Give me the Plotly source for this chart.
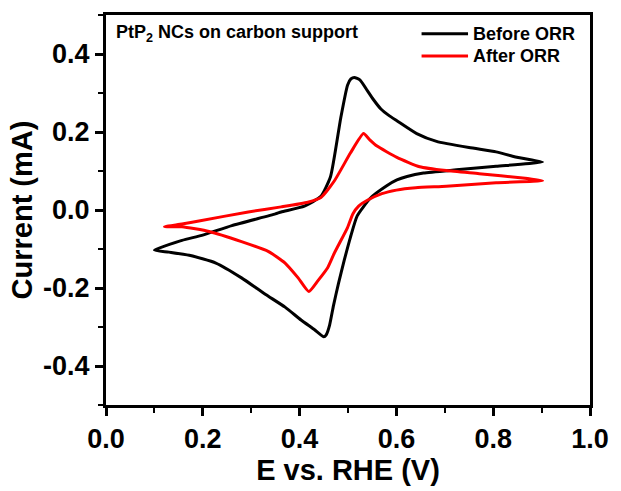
import plotly.graph_objects as go

# Before ORR (black) CV loop
before_E = [0.100, 0.157, 0.198, 0.260, 0.350, 0.362, 0.410, 0.444, 0.464, 0.485, 0.499, 0.506, 0.513,
            0.525, 0.540, 0.552, 0.568, 0.585, 0.601, 0.642, 0.683, 0.750, 0.806, 0.840, 0.880, 0.902,
            0.806, 0.724, 0.656, 0.622, 0.601, 0.580, 0.546, 0.519, 0.505, 0.492, 0.480, 0.470,
            0.462, 0.455, 0.450, 0.431, 0.403, 0.370, 0.329, 0.280, 0.227, 0.172, 0.130, 0.100]
before_I = [-0.103, -0.078, -0.065, -0.040, -0.010, -0.005, 0.010, 0.035, 0.086, 0.236, 0.320, 0.336, 0.340,
            0.333, 0.306, 0.284, 0.259, 0.242, 0.229, 0.196, 0.176, 0.160, 0.149, 0.138, 0.128, 0.123,
            0.112, 0.103, 0.095, 0.086, 0.077, 0.062, 0.030, -0.015, -0.070, -0.130, -0.190, -0.245,
            -0.295, -0.320, -0.325, -0.307, -0.282, -0.249, -0.216, -0.174, -0.136, -0.116, -0.108, -0.103]

# After ORR (red) CV loop
after_E = [0.121, 0.157, 0.192, 0.294, 0.362, 0.417, 0.444, 0.472, 0.505, 0.532,
           0.545, 0.560, 0.601, 0.648, 0.703, 0.771, 0.861, 0.902,
           0.806, 0.703, 0.640, 0.600, 0.570, 0.540, 0.522, 0.510, 0.499, 0.472, 0.458, 0.438,
           0.419, 0.397, 0.370, 0.335, 0.280, 0.213, 0.157, 0.121]
after_I = [-0.043, -0.036, -0.028, -0.005, 0.008, 0.020, 0.032, 0.075, 0.146, 0.196,
           0.180, 0.164, 0.135, 0.111, 0.101, 0.093, 0.082, 0.075,
           0.070, 0.061, 0.057, 0.051, 0.042, 0.025, 0.010, -0.010, -0.045, -0.110, -0.148, -0.181,
           -0.209, -0.174, -0.136, -0.106, -0.081, -0.055, -0.043, -0.043]

series_names = ["Before ORR", "After ORR"]
series_colors = ["black", "#ff0000"]

y_tickvals = [-0.4, -0.2, 0.0, 0.2, 0.4]
y_ticktext = ["-0.4", "-0.2", "0.0", "0.2", "0.4"]
x_tickvals = [0.0, 0.2, 0.4, 0.6, 0.8, 1.0]
x_ticktext = ["0.0", "0.2", "0.4", "0.6", "0.8", "1.0"]

FONT = "Liberation Sans, Arial, sans-serif"

fig = go.Figure()
fig.add_trace(go.Scatter(x=before_E, y=before_I, mode="lines", name=series_names[0],
                         line=dict(color=series_colors[0], width=3, shape="spline", smoothing=0.5)))
fig.add_trace(go.Scatter(x=after_E, y=after_I, mode="lines", name=series_names[1],
                         line=dict(color=series_colors[1], width=3, shape="spline", smoothing=0.5)))

axis_common = dict(showline=True, linecolor="black", linewidth=3, mirror=True,
                   ticks="outside", ticklen=8, tickwidth=2.5, tickcolor="black",
                   showgrid=False, zeroline=False,
                   tickfont=dict(family=FONT, size=27, color="black"))

fig.update_xaxes(range=[0, 1], tickvals=x_tickvals, ticktext=["<b>%s</b>" % t for t in x_ticktext],
                 minor=dict(dtick=0.1, ticks="outside", ticklen=5, tickwidth=2, tickcolor="black"),
                 title=dict(text="<b>E vs. RHE (V)</b>", font=dict(family=FONT, size=29, color="black"),
                            standoff=4),
                 **axis_common)
fig.update_yaxes(range=[-0.5, 0.5], tickvals=y_tickvals, ticktext=["<b>%s</b>" % t for t in y_ticktext],
                 minor=dict(dtick=0.1, ticks="outside", ticklen=5, tickwidth=2, tickcolor="black"),
                 title=dict(text="<b>Current (mA)</b>", font=dict(family=FONT, size=29, color="black"),
                            standoff=2),
                 **axis_common)

fig.add_annotation(x=0.016, y=0.952, xref="paper", yref="paper", xanchor="left", yanchor="middle",
                   text="<b>PtP<sub>2</sub> NCs on carbon support</b>", showarrow=False,
                   font=dict(family=FONT, size=18, color="black"))

# manual legend
leg_y = [0.952, 0.895]
for name, color, yy in zip(series_names, series_colors, leg_y):
    fig.add_shape(type="line", xref="paper", yref="paper", x0=0.652, x1=0.748, y0=yy, y1=yy,
                  line=dict(color=color, width=3))
    fig.add_annotation(x=0.755, y=yy, xref="paper", yref="paper", xanchor="left", yanchor="middle",
                       text="<b>%s</b>" % name, showarrow=False,
                       font=dict(family=FONT, size=18, color="black"))

fig.update_layout(
    width=621, height=491,
    margin=dict(l=106, r=26, t=13, b=79),
    paper_bgcolor="white", plot_bgcolor="white",
    showlegend=False,
)

fig.write_html("out.html")
